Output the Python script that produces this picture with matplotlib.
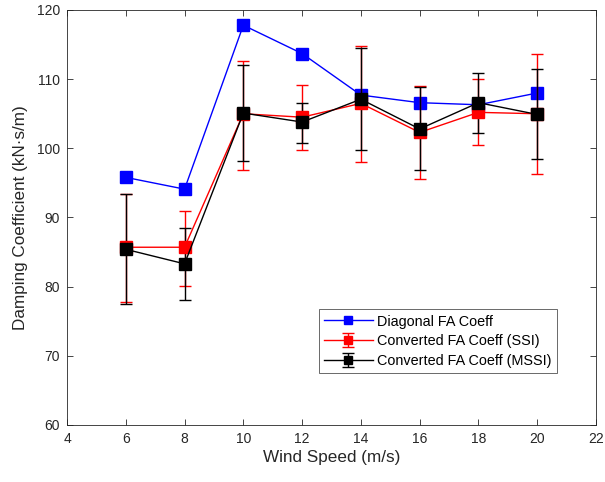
import matplotlib
matplotlib.use("Agg")
import matplotlib.pyplot as plt

plt.rcParams['font.family'] = ['Liberation Sans', 'DejaVu Sans']

wind_speed = [6, 8, 10, 12, 14, 16, 18, 20]

diag_coeff = [95.8, 94.1, 117.8, 113.7, 107.7, 106.6, 106.3, 108.0]

ssi_coeff = [85.7, 85.7, 105.0, 104.5, 106.5, 102.3, 105.2, 105.0]
ssi_upper = [93.4, 91.0, 112.6, 109.1, 114.8, 109.0, 110.0, 113.6]
ssi_lower = [77.8, 80.1, 96.9, 99.7, 98.0, 95.6, 100.5, 96.3]

mssi_coeff = [85.4, 83.3, 105.1, 103.8, 107.1, 102.8, 106.6, 104.9]
mssi_upper = [93.4, 88.5, 112.0, 106.5, 114.5, 108.8, 110.9, 111.4]
mssi_lower = [77.5, 78.1, 98.2, 100.8, 99.7, 96.8, 102.2, 98.5]

ssi_err = [[c - lo for c, lo in zip(ssi_coeff, ssi_lower)],
           [hi - c for c, hi in zip(ssi_coeff, ssi_upper)]]
mssi_err = [[c - lo for c, lo in zip(mssi_coeff, mssi_lower)],
            [hi - c for c, hi in zip(mssi_coeff, mssi_upper)]]

fig = plt.figure(figsize=(6.05, 4.82), dpi=100)
ax = fig.add_axes([67 / 605, 1 - 425 / 482, (596 - 67) / 605, (425 - 10) / 482])

ax.plot(wind_speed, diag_coeff, color='#0000ff', marker='s', markersize=8.2,
        linewidth=1.0, label='Diagonal FA Coeff')
ax.errorbar(wind_speed, ssi_coeff, yerr=ssi_err, color='#ff0000', marker='s',
            markersize=8.2, linewidth=1.0, elinewidth=1.0, capsize=4,
            capthick=1.0, label='Converted FA Coeff (SSI)')
ax.errorbar(wind_speed, mssi_coeff, yerr=mssi_err, color='#000000', marker='s',
            markersize=8.2, linewidth=1.0, elinewidth=1.0, capsize=4,
            capthick=1.0, label='Converted FA Coeff (MSSI)')

ax.set_xlim(4, 22)
ax.set_ylim(60, 120)
ax.set_xticks(range(4, 23, 2))
ax.set_yticks(range(60, 121, 10))
ax.tick_params(direction='in', top=True, right=True, length=4, width=0.6,
               labelsize=10, colors='#262626', pad=5)
for s in ax.spines.values():
    s.set_linewidth(0.6)
    s.set_color('#262626')

ax.set_xlabel('Wind Speed (m/s)', fontsize=12.3, color='#262626', labelpad=3)
ax.set_ylabel('Damping Coefficient (kN\u00b7s/m)', fontsize=12.3, color='#262626',
              labelpad=6)

leg = ax.legend(loc='lower right', bbox_to_anchor=(0.926, 0.125), fontsize=10.4,
                frameon=True, fancybox=False, edgecolor='#262626',
                borderpad=0.35, labelspacing=0.4, handlelength=3.4,
                handletextpad=0.3, markerscale=0.65, borderaxespad=0)
leg.get_frame().set_linewidth(0.6)

fig.savefig('out.png', dpi=100)
